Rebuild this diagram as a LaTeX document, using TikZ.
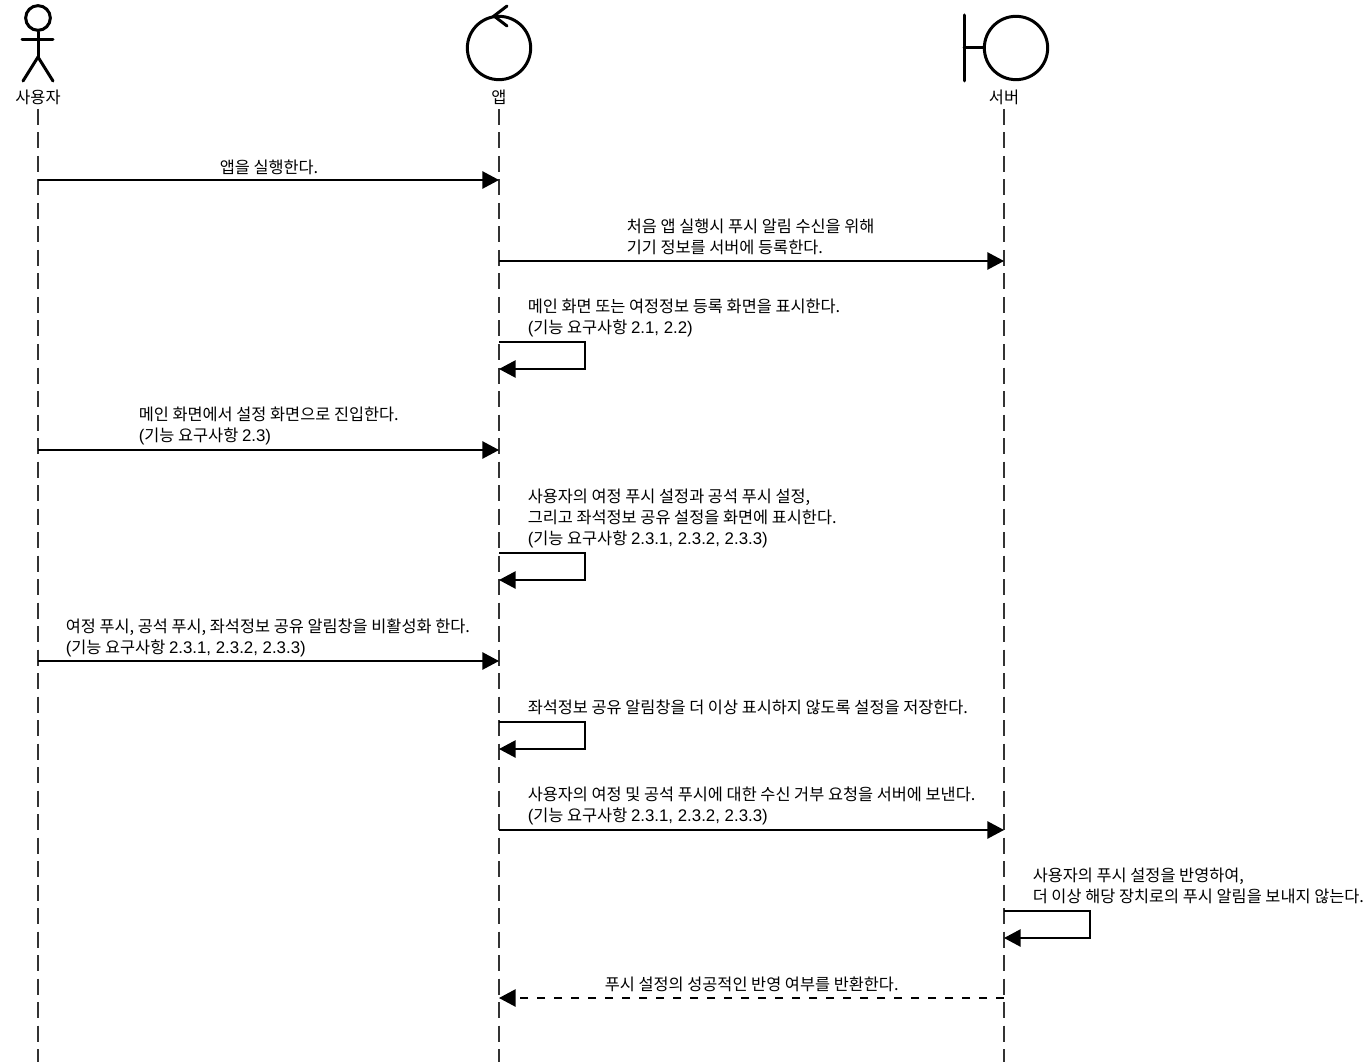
\documentclass[tikz,border=0pt]{standalone}
\usepackage{fontspec}
\setmainfont{Noto Sans CJK KR}
\newfontfamily\latn[Scale=1.03]{Liberation Sans}
\usetikzlibrary{arrows.meta}
\newcommand{\req}[1]{{\latn(}기능 요구사항 {\latn #1)}}
\begin{document}
\begin{tikzpicture}[
    x=0.75pt, y=-0.75pt,
    icon/.style={line width=2.25pt, line cap=round},
    head/.style={circle, draw, line width=2.25pt, inner sep=0pt},
    lifeline/.style={line width=1.2pt, black!80, dash pattern=on 12pt off 5.625pt},
    msg/.style={line width=1.2pt, -{Triangle[length=12.5pt, width=13pt]}},
    reply/.style={msg, dash pattern=on 6.375pt off 6.375pt},
    actor name/.style={font=\fontsize{12.3}{14}\selectfont, inner sep=0pt},
    msg text/.style={font=\fontsize{12.27}{15.8}\selectfont, anchor=west, align=left, inner sep=0pt}
]
    \useasboundingbox (0,0) rectangle (1366,1062);

    % 참여자 아이콘
    \node[head, minimum size=18.5pt] (user-head) at (38,18) {};
    \coordinate (user-hip) at (38,57);
    \coordinate (user-arm-l) at (22,40);
    \coordinate (user-arm-r) at (53,40);
    \coordinate (user-leg-l) at (23,81);
    \coordinate (user-leg-r) at (53,81);
    \draw[icon] (user-head.south) -- (user-hip);
    \draw[icon] (user-arm-l) -- (user-arm-r);
    \draw[icon] (user-leg-l) -- (user-hip) -- (user-leg-r);

    \node[head, minimum size=47.5pt] (app-head) at (499,48) {};
    \coordinate (app-tip) at (494,16);
    \coordinate (app-tip-u) at (507,6);
    \coordinate (app-tip-d) at (507,26);
    \draw[icon] (app-tip-u) -- (app-tip) -- (app-tip-d);

    \node[head, minimum size=47.5pt] (server-head) at (1016,48) {};
    \coordinate (server-top) at (964,15);
    \coordinate (server-mid) at (964,48);
    \coordinate (server-bot) at (964,81);
    \draw[icon] (server-top) -- (server-bot);
    \draw[icon] (server-mid) -- (server-head.west);

    % 생명선
    \foreach \x/\id/\txt in {38/user/사용자,499/app/앱,1004/server/서버}{
        \node[actor name] (\id-name) at (\x,97.5) {\txt};
        \coordinate (\id-top) at (\x,109);
        \coordinate (\id-end) at (\x,1062);
        \draw[lifeline] (\id-top) -- (\id-end);
    }

    % 메시지 위치
    \foreach \y/\id in {180/m1,261/m2,342/m3,369/m3b,450/m4,553/m5,580/m5b,661/m6,722/m7,749/m7b,830/m8,911/m9,938/m9b,998/m10}{
        \coordinate (user-\id) at (38,\y);
        \coordinate (app-\id) at (499,\y);
        \coordinate (server-\id) at (1004,\y);
    }

    % 메시지
    \draw[msg] (user-m1) -- (app-m1);
    \node[msg text] (t1) at (219.5,167) {앱을 실행한다.};

    \draw[msg] (app-m2) -- (server-m2);
    \node[msg text] (t2) at (626.5,236.5) {처음 앱 실행시 푸시 알림 수신을 위해\\기기 정보를 서버에 등록한다.};

    \draw[msg] (app-m3) -- ++(86,0) -- ++(0,27) -- (app-m3b);
    \node[msg text] (t3) at (527.5,318) {메인 화면 또는 여정정보 등록 화면을 표시한다.\\\req{2.1, 2.2}};

    \draw[msg] (user-m4) -- (app-m4);
    \node[msg text] (t4) at (138.5,426) {메인 화면에서 설정 화면으로 진입한다.\\\req{2.3}};

    \draw[msg] (app-m5) -- ++(86,0) -- ++(0,27) -- (app-m5b);
    \node[msg text] (t5) at (527.5,518.5) {사용자의 여정 푸시 설정과 공석 푸시 설정,\\그리고 좌석정보 공유 설정을 화면에 표시한다.\\\req{2.3.1, 2.3.2, 2.3.3}};

    \draw[msg] (user-m6) -- (app-m6);
    \node[msg text] (t6) at (65.5,637.5) {여정 푸시, 공석 푸시, 좌석정보 공유 알림창을 비활성화 한다.\\\req{2.3.1, 2.3.2, 2.3.3}};

    \draw[msg] (app-m7) -- ++(86,0) -- ++(0,27) -- (app-m7b);
    \node[msg text] (t7) at (527.5,707.5) {좌석정보 공유 알림창을 더 이상 표시하지 않도록 설정을 저장한다.};

    \draw[msg] (app-m8) -- (server-m8);
    \node[msg text] (t8) at (527.5,806) {사용자의 여정 및 공석 푸시에 대한 수신 거부 요청을 서버에 보낸다.\\\req{2.3.1, 2.3.2, 2.3.3}};

    \draw[msg] (server-m9) -- ++(86,0) -- ++(0,27) -- (server-m9b);
    \node[msg text] (t9) at (1032.5,885.5) {사용자의 푸시 설정을 반영하여,\\더 이상 해당 장치로의 푸시 알림을 보내지 않는다.};

    \draw[reply] (server-m10) -- (app-m10);
    \node[msg text] (t10) at (604.5,984.5) {푸시 설정의 성공적인 반영 여부를 반환한다.};
\end{tikzpicture}
\end{document}
